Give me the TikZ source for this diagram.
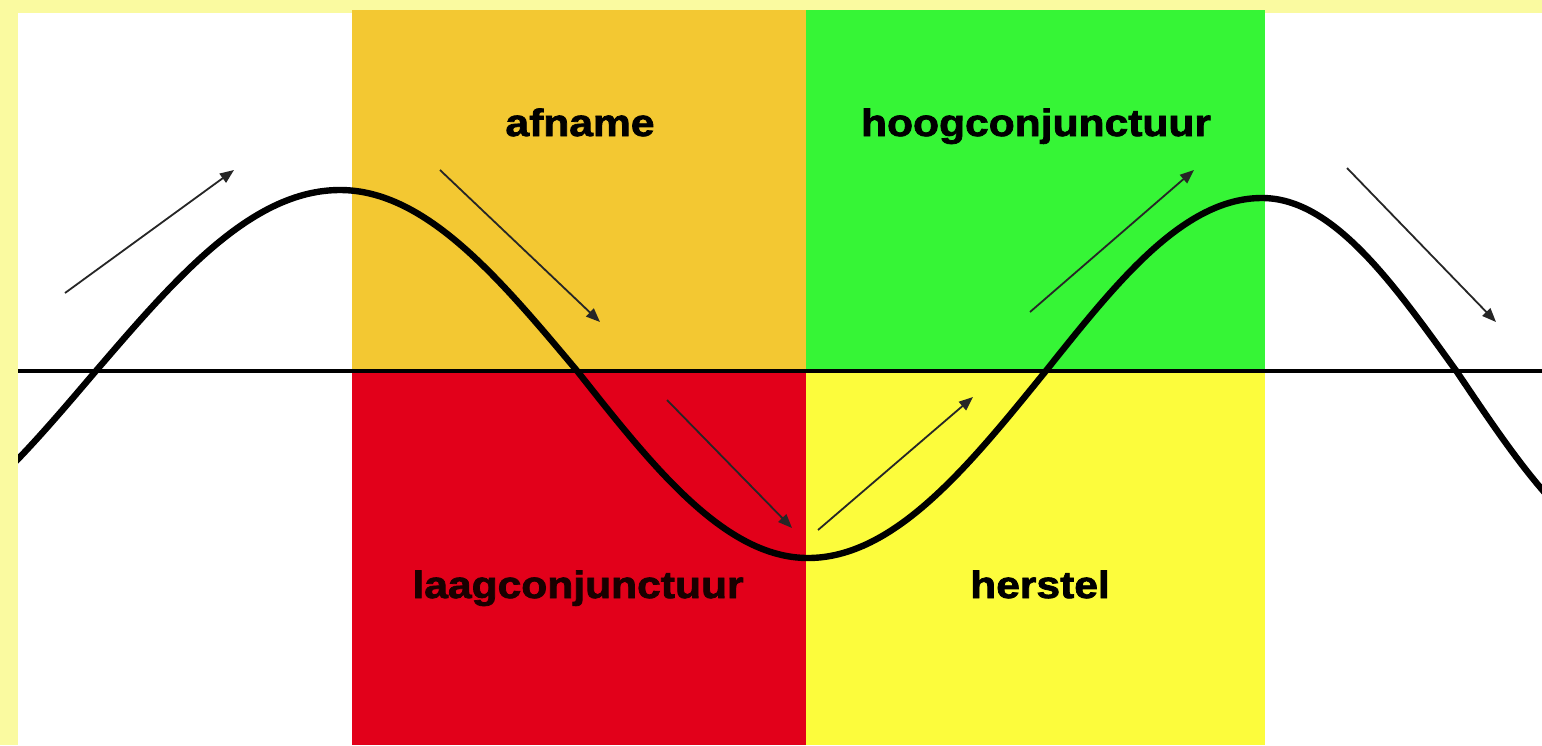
\documentclass[tikz,border=0pt]{standalone}
\usepackage{fontspec}
\usetikzlibrary{arrows.meta}
\newfontfamily\lblfont{Liberation Sans}[FakeStretch=1.12, BoldFeatures={FakeBold=2}]
\definecolor{bordery}{HTML}{FAFAA0}
\definecolor{qorange}{HTML}{F3C832}
\definecolor{qgreen}{HTML}{36F536}
\definecolor{qred}{HTML}{E2001A}
\definecolor{qyellow}{HTML}{FCFC3C}
\tikzset{
  lbl/.style={inner sep=0pt, anchor=base, font=\lblfont\bfseries\fontsize{19}{22}\selectfont, text=black},
  thinarrow/.style={draw=black!85, line width=0.9pt, -{Triangle[length=7pt,width=5.5pt]}},
  wave/.style={draw=black, line width=3.2pt},
  axisline/.style={draw=black, line width=1.6pt}
}
\begin{document}
\begin{tikzpicture}[x=0.5pt,y=-0.5pt]
\useasboundingbox (0,0) rectangle (1542,745);
\fill[bordery] (0,0) rectangle (1542,745);
\fill[white] (18,13) rectangle (1542,745);
\fill[qorange] (352,10) rectangle (806,372);
\fill[qgreen] (806,10) rectangle (1265,372);
\fill[qred] (352,372) rectangle (806,745);
\fill[qyellow] (806,372) rectangle (1265,745);
% axis
\coordinate (axL) at (18,371);
\coordinate (axR) at (1542,371);
\draw[axisline] (axL) -- (axR);
% wave
\begin{scope}
\clip (18,0) rectangle (1542,745);
\draw[wave] (-150,556) .. controls (-61,556) and (15,466) .. (95,372)
  .. controls (175,279) and (251,190) .. (340,190)
  .. controls (426,190) and (500,279) .. (578,372)
  .. controls (653,467) and (725,558) .. (808,558)
  .. controls (894,558) and (968,467) .. (1045,372)
  .. controls (1116,283) and (1183,198) .. (1262,198)
  .. controls (1333,198) and (1393,283) .. (1457,372)
  .. controls (1521,467) and (1581,558) .. (1652,558);
\end{scope}
% arrows
\coordinate (a1s) at (65,293);   \coordinate (a1e) at (234,170);
\coordinate (a2s) at (440,170);  \coordinate (a2e) at (600,322);
\coordinate (a3s) at (667,400);  \coordinate (a3e) at (792,528);
\coordinate (a4s) at (818,530);  \coordinate (a4e) at (973,397);
\coordinate (a5s) at (1030,312); \coordinate (a5e) at (1194,170);
\coordinate (a6s) at (1347,168); \coordinate (a6e) at (1496,322);
\draw[thinarrow] (a1s) -- (a1e);
\draw[thinarrow] (a2s) -- (a2e);
\draw[thinarrow] (a3s) -- (a3e);
\draw[thinarrow] (a4s) -- (a4e);
\draw[thinarrow] (a5s) -- (a5e);
\draw[thinarrow] (a6s) -- (a6e);
% labels
\node[lbl] (afname) at (580,136) {afname};
\node[lbl] (hoog) at (1036,136) {hoogconjunctuur};
\node[lbl, text=black!90!red] (laag) at (578,598) {laagconjunctuur};
\node[lbl] (herstel) at (1040,598) {herstel};
\end{tikzpicture}
\end{document}
